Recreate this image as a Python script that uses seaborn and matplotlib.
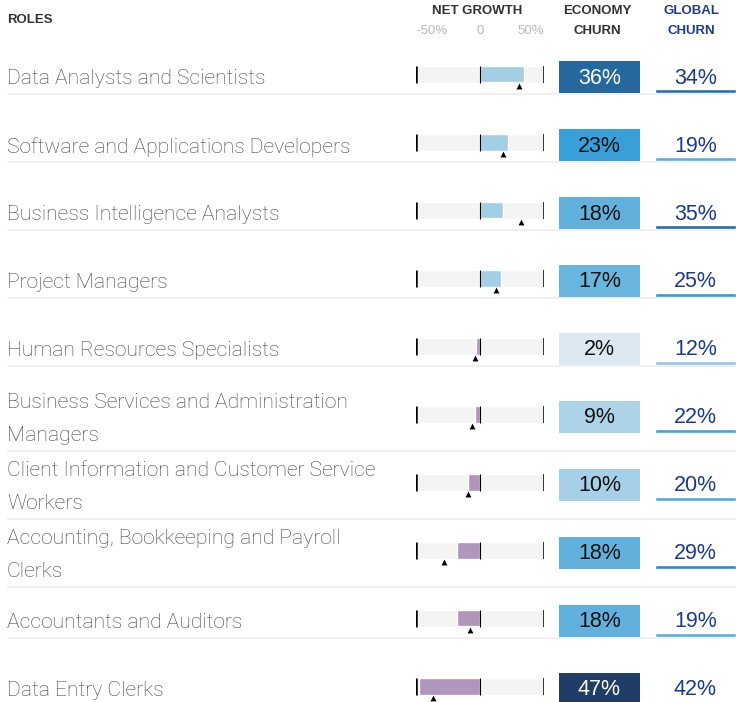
import matplotlib.pyplot as plt
import numpy as np
import seaborn as sns
from matplotlib.colors import LinearSegmentedColormap, Normalize

sns.set_theme(style="white")
plt.rcParams["font.family"] = ["Liberation Sans", "DejaVu Sans"]

roles = [
    "Data Analysts and Scientists",
    "Software and Applications Developers",
    "Business Intelligence Analysts",
    "Project Managers",
    "Human Resources Specialists",
    "Business Services and Administration\nManagers",
    "Client Information and Customer Service\nWorkers",
    "Accounting, Bookkeeping and Payroll\nClerks",
    "Accountants and Auditors",
    "Data Entry Clerks",
]
net_growth = [35, 22, 18, 17, -3, -4, -9, -18, -18, -48]
global_growth = [31, 18, 32, 13, -4, -6, -9, -28, -8, -37]
economy_churn = [36, 23, 18, 17, 2, 9, 10, 18, 18, 47]
global_churn = [34, 19, 35, 25, 12, 22, 20, 29, 19, 42]
growth_ticks = [(-50, "-50%", "left"), (0, "0", "center"), (50, "50%", "right")]

W, H = 736, 702
ROW0, PITCH = 77, 68
n = len(roles)
rows = np.arange(n)

churn_cmap = LinearSegmentedColormap.from_list(
    "churn",
    [(0.0, "#e9eff4"), (0.2, "#a6d0e8"), (0.36, "#62b1dd"), (0.46, "#389fd8"),
     (0.6, "#2a86c2"), (0.72, "#25689e"), (1.0, "#1f3158")],
)
norm = Normalize(0, 50)

fig = plt.figure(figsize=(W / 100, H / 100), dpi=100)
fig.patch.set_facecolor("white")

# row scale shared by every column: row i sits at pixel ROW0 + PITCH * i
top, bottom = -ROW0 / PITCH, (H - ROW0) / PITCH
band_bottom = 1 - (ROW0 - PITCH / 2 + n * PITCH) / H
band_height = n * PITCH / H
text_nudge = 1 / PITCH

# economy churn: heatmap cells, white grid lines make the gaps
gap = 36
ax_ec = fig.add_axes([(559 - gap / 2) / W, band_bottom, (81 + gap) / W, band_height])
sns.heatmap(
    np.array(economy_churn).reshape(-1, 1), ax=ax_ec, cmap=churn_cmap, vmin=0, vmax=50,
    cbar=False, linewidths=gap * 0.72, linecolor="white",
    xticklabels=False, yticklabels=False,
)
for i, v in enumerate(economy_churn):
    ax_ec.text(0.5, i + 0.5 + text_nudge, f"{v}%", ha="center", va="center",
               fontsize=15.5, color="white" if v > 30 else "#111111")
ax_ec.set_zorder(0)

# net growth bars
ax_ng = fig.add_axes([416 / W, 0, 127.6 / W, 1])
ax_ng.set_zorder(2)
bar_y = rows - 3 / PITCH
bar_h = 17 / PITCH
ax_ng.barh(bar_y, 100, left=-50, height=bar_h, color="#f4f4f4", zorder=1)
sns.barplot(
    x=net_growth, y=bar_y, orient="h", native_scale=True, width=bar_h,
    hue=["pos" if g > 0 else "neg" for g in net_growth],
    palette={"pos": "#a2cee6", "neg": "#b095bd"}, saturation=1,
    legend=False, dodge=False, ax=ax_ng, zorder=2,
)
for x, lw in [(-50, 1.8), (0, 0.8), (50, 1.1)]:
    ax_ng.vlines(np.full(n, x), bar_y - bar_h / 2, bar_y + bar_h / 2,
                 color="black", lw=lw, zorder=3)
ax_ng.scatter(global_growth, rows + 9 / PITCH, marker="^", s=18, color="black",
              linewidths=0, zorder=4)
for x, lab, ha in growth_ticks:
    ax_ng.text(x, -ROW0 / PITCH + 31 / PITCH, lab, ha=ha, va="center",
               fontsize=9.5, color="#b8b8b8")
ax_ng.set_xlim(-50, 50)
ax_ng.set_ylim(bottom, top)
ax_ng.axis("off")

# global churn: value with a coloured underline
ax_gc = fig.add_axes([655 / W, band_bottom, 81 / W, band_height])
ax_gc.set_zorder(2)
ax_gc.barh(rows + 0.5 + 14 / PITCH, 1, height=4 / PITCH,
           color=[churn_cmap(norm(v)) for v in global_churn])
for i, v in enumerate(global_churn):
    ax_gc.text(0.5, i + 0.5 + text_nudge, f"{v}%", ha="center", va="center",
               fontsize=15.5, color="#1a3a8e")
ax_gc.set_xlim(0, 1)
ax_gc.set_ylim(n, 0)
ax_gc.axis("off")

# labels, headers and row rules in pixel space
ax = fig.add_axes([0, 0, 1, 1])
ax.set_zorder(3)
ax.patch.set_alpha(0)
ax.set_xlim(0, W)
ax.set_ylim(H, 0)
ax.axis("off")
for i, role in enumerate(roles):
    y = ROW0 + PITCH * i
    lines = role.count("\n") + 1
    ax.text(7, y + 2, role, ha="left", va="center", fontsize=15.2, color="#444444",
            family=["Roboto", "DejaVu Sans"], fontweight="light", linespacing=1.9)
    ax.hlines(y + 17 * lines, 7, W, color="#eeeeee", lw=1.2)

ax.text(7, 20, "ROLES", ha="left", va="center", fontsize=9.5, fontweight="bold", color="#333333")
ax.text(477, 10.5, "NET GROWTH", ha="center", va="center", fontsize=9.5, fontweight="bold", color="#333333")
ax.text(597, 10.5, "ECONOMY", ha="center", va="center", fontsize=9.5, fontweight="bold", color="#333333")
ax.text(597, 30.5, "CHURN", ha="center", va="center", fontsize=9.5, fontweight="bold", color="#333333")
ax.text(691, 10.5, "GLOBAL", ha="center", va="center", fontsize=9.5, fontweight="bold", color="#1f3b8f")
ax.text(691, 30.5, "CHURN", ha="center", va="center", fontsize=9.5, fontweight="bold", color="#1f3b8f")

fig.savefig("out.png", dpi=100)
plt.close(fig)
